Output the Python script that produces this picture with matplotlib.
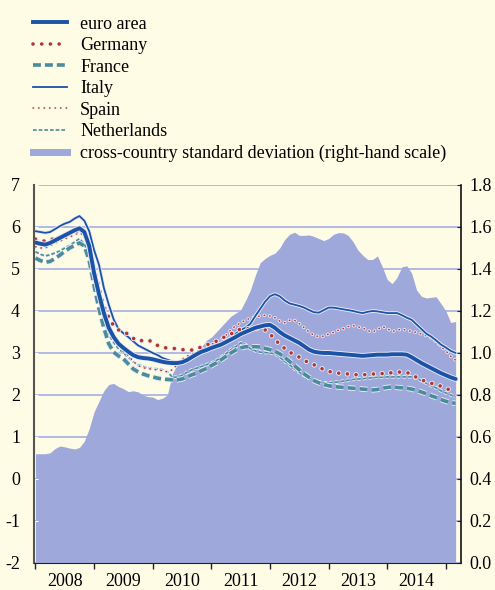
import matplotlib
matplotlib.use("Agg")
import matplotlib.pyplot as plt
import matplotlib.patheffects as pe
from matplotlib.lines import Line2D
import numpy as np

# monthly observations, Jan 2008 - Mar 2015
euro_area = [5.63, 5.60, 5.58, 5.62, 5.68, 5.74, 5.80, 5.86, 5.92, 5.97, 5.88, 5.55,
             4.90, 4.40, 3.95, 3.60, 3.38, 3.22, 3.12, 3.03, 2.95, 2.90, 2.88, 2.87,
             2.85, 2.82, 2.79, 2.77, 2.76, 2.76, 2.78, 2.83, 2.90, 2.97, 3.03, 3.07,
             3.12, 3.16, 3.20, 3.26, 3.32, 3.38, 3.45, 3.50, 3.55, 3.60, 3.63, 3.66,
             3.67, 3.60, 3.50, 3.42, 3.36, 3.30, 3.24, 3.16, 3.08, 3.03, 3.01, 3.00,
             3.00, 2.99, 2.98, 2.97, 2.96, 2.95, 2.94, 2.93, 2.94, 2.95, 2.96, 2.96,
             2.96, 2.97, 2.97, 2.97, 2.96, 2.90, 2.83, 2.76, 2.70, 2.64, 2.58, 2.52,
             2.47, 2.42, 2.38]
germany = [5.71, 5.68, 5.66, 5.70, 5.72, 5.76, 5.80, 5.84, 5.88, 5.93, 5.88, 5.50,
           5.00, 4.55, 4.10, 3.85, 3.65, 3.55, 3.50, 3.45, 3.35, 3.28, 3.30, 3.31,
           3.26, 3.18, 3.13, 3.12, 3.11, 3.10, 3.08, 3.07, 3.07, 3.09, 3.15, 3.19,
           3.23, 3.28, 3.34, 3.40, 3.45, 3.52, 3.57, 3.58, 3.58, 3.58, 3.58, 3.55,
           3.45, 3.33, 3.20, 3.11, 3.02, 2.96, 2.90, 2.83, 2.76, 2.72, 2.67, 2.60,
           2.56, 2.54, 2.52, 2.51, 2.50, 2.49, 2.48, 2.48, 2.49, 2.50, 2.50, 2.51,
           2.52, 2.53, 2.54, 2.55, 2.54, 2.48, 2.42, 2.36, 2.32, 2.28, 2.24, 2.21,
           2.17, 2.10, 2.05]
france = [5.26, 5.20, 5.16, 5.18, 5.25, 5.33, 5.42, 5.50, 5.56, 5.62, 5.55, 5.20,
          4.60, 4.05, 3.60, 3.22, 3.02, 2.93, 2.86, 2.74, 2.62, 2.55, 2.50, 2.46,
          2.43, 2.40, 2.38, 2.37, 2.36, 2.36, 2.38, 2.43, 2.48, 2.52, 2.58, 2.63,
          2.70, 2.76, 2.84, 2.92, 3.00, 3.07, 3.12, 3.15, 3.15, 3.15, 3.14, 3.11,
          3.08, 3.04, 2.98, 2.90, 2.80, 2.70, 2.60, 2.50, 2.42, 2.34, 2.29, 2.25,
          2.22, 2.20, 2.19, 2.18, 2.17, 2.16, 2.15, 2.14, 2.13, 2.12, 2.13, 2.16,
          2.18, 2.19, 2.18, 2.17, 2.16, 2.14, 2.11, 2.07, 2.03, 1.98, 1.94, 1.89,
          1.85, 1.82, 1.80]
italy = [5.90, 5.88, 5.86, 5.88, 5.95, 6.02, 6.08, 6.12, 6.20, 6.26, 6.15, 5.90,
         5.45, 5.10, 4.55, 4.15, 3.80, 3.57, 3.47, 3.38, 3.28, 3.18, 3.12, 3.06,
         3.00, 2.95, 2.88, 2.84, 2.80, 2.79, 2.80, 2.84, 2.90, 2.96, 3.02, 3.07,
         3.12, 3.17, 3.22, 3.28, 3.36, 3.46, 3.55, 3.60, 3.70, 3.88, 4.05, 4.22,
         4.35, 4.40, 4.35, 4.25, 4.18, 4.15, 4.12, 4.08, 4.02, 3.97, 3.96, 4.02,
         4.08, 4.08, 4.06, 4.04, 4.02, 4.00, 3.97, 3.95, 3.98, 4.00, 3.99, 3.97,
         3.95, 3.95, 3.95, 3.90, 3.84, 3.79, 3.68, 3.57, 3.46, 3.39, 3.30, 3.20,
         3.13, 3.05, 3.00]
spain = [5.53, 5.50, 5.50, 5.55, 5.62, 5.66, 5.72, 5.76, 5.82, 5.86, 5.80, 5.45,
         5.00, 4.50, 4.05, 3.70, 3.40, 3.18, 3.03, 2.94, 2.80, 2.70, 2.65, 2.63,
         2.61, 2.60, 2.58, 2.55, 2.60, 2.72, 2.85, 2.92, 2.98, 3.03, 3.08, 3.13,
         3.20, 3.27, 3.33, 3.42, 3.55, 3.65, 3.72, 3.78, 3.83, 3.86, 3.88, 3.90,
         3.88, 3.84, 3.76, 3.72, 3.78, 3.78, 3.70, 3.60, 3.50, 3.42, 3.39, 3.40,
         3.45, 3.49, 3.54, 3.58, 3.63, 3.65, 3.62, 3.60, 3.53, 3.50, 3.56, 3.63,
         3.58, 3.51, 3.54, 3.57, 3.54, 3.51, 3.49, 3.45, 3.41, 3.36, 3.27, 3.15,
         3.05, 2.92, 2.83]
netherlands = [5.41, 5.35, 5.31, 5.34, 5.38, 5.43, 5.50, 5.56, 5.64, 5.72, 5.60, 5.30,
               4.95, 4.25, 3.80, 3.45, 3.25, 3.10, 3.00, 2.90, 2.79, 2.72, 2.68, 2.64,
               2.63, 2.62, 2.60, 2.55, 2.43, 2.42, 2.47, 2.54, 2.60, 2.64, 2.68, 2.72,
               2.76, 2.82, 2.90, 2.98, 3.08, 3.15, 3.24, 3.20, 3.10, 3.05, 3.02, 3.01,
               3.00, 2.98, 2.90, 2.80, 2.72, 2.62, 2.54, 2.46, 2.40, 2.35, 2.31, 2.29,
               2.29, 2.30, 2.31, 2.33, 2.35, 2.37, 2.38, 2.39, 2.40, 2.41, 2.42, 2.42,
               2.43, 2.43, 2.43, 2.43, 2.43, 2.43, 2.40, 2.34, 2.28, 2.22, 2.17, 2.10,
               2.05, 2.00, 1.96]
std_dev = [0.520, 0.520, 0.520, 0.525, 0.545, 0.557, 0.553, 0.547, 0.543, 0.550, 0.580, 0.640,
           0.720, 0.770, 0.820, 0.850, 0.855, 0.840, 0.830, 0.816, 0.820, 0.815, 0.800, 0.792,
           0.790, 0.778, 0.785, 0.800, 0.900, 0.945, 0.955, 0.975, 0.990, 1.000, 1.030, 1.060,
           1.075, 1.100, 1.125, 1.150, 1.175, 1.190, 1.205, 1.250, 1.300, 1.370, 1.430, 1.450,
           1.465, 1.475, 1.500, 1.540, 1.565, 1.575, 1.560, 1.560, 1.562, 1.555, 1.545, 1.535,
           1.545, 1.565, 1.573, 1.572, 1.560, 1.530, 1.490, 1.465, 1.445, 1.445, 1.462, 1.410,
           1.350, 1.330, 1.360, 1.410, 1.415, 1.380, 1.300, 1.270, 1.262, 1.265, 1.268, 1.235,
           1.200, 1.145, 1.150]

years = ["2008", "2009", "2010", "2011", "2012", "2013", "2014"]
left_ticks = [-2, -1, 0, 1, 2, 3, 4, 5, 6, 7]
right_ticks = [0.0, 0.2, 0.4, 0.6, 0.8, 1.0, 1.2, 1.4, 1.6, 1.8]

plt.rcParams['font.family'] = ['Liberation Serif', 'DejaVu Serif']
plt.rcParams['axes.unicode_minus'] = False
plt.rcParams['font.size'] = 13

bg = '#FEFCE4'
blue = '#1B53A6'
red = '#B5352C'
teal = '#4A8C9A'
lav = '#9EA8DB'
grid_c = '#9DA7E4'

months = np.arange(len(euro_area))

fig = plt.figure(figsize=(4.95, 5.9), dpi=100, facecolor=bg)
ax = fig.add_axes([0.0687, 0.0458, 0.8626, 0.6407])
ax2 = ax.twinx()
ax.set_zorder(2)
ax2.set_zorder(1)
ax.patch.set_visible(False)
ax2.patch.set_visible(False)

# std deviation on the right-hand scale, grid underneath it
ax2.set_axisbelow(True)
ax2.fill_between(months, 0, std_dev, color=lav, lw=0, zorder=2)
ax2.set_ylim(0, 1.8)
ax2.set_yticks(right_ticks)
ax2.set_yticklabels([f"{t:.1f}" for t in right_ticks])
ax2.grid(True, color=grid_c, lw=1.1, zorder=0)
ax2.set_xticks(np.arange(12, 85, 12))

halo = '#E9EBF7'
def draw(vals, color, lw, ls, cap='butt'):
    ln, = ax.plot(months, vals, color=color, lw=lw, ls=ls,
                  solid_capstyle='round', dash_capstyle=cap)
    ln.set_path_effects([pe.Stroke(linewidth=lw + 1.3, foreground=halo), pe.Normal()])
    return ln

draw(netherlands, teal, 1.2, (0, (2.2, 1.2)))
draw(spain, red, 1.1, (0, (0.4, 3.2)), 'round')
draw(italy, blue, 1.3, '-')
draw(france, teal, 2.6, (0, (2.2, 1.1)))
draw(germany, red, 2.6, (0, (0.01, 2.4)), 'round')
draw(euro_area, blue, 2.8, '-')

ax.set_xlim(-0.3, 87.1)
ax.set_ylim(-2, 7)
ax.set_yticks(left_ticks)
ax.set_yticklabels([str(t) for t in left_ticks])

ax.set_xticks(np.arange(0, 85, 12))
ax.set_xticks(np.arange(6, 84, 12), minor=True)
ax.set_xticklabels([])
ax.set_xticklabels(years, minor=True)
ax.tick_params(axis='x', which='major', direction='out', length=4, width=1, color='#222222')
ax.tick_params(axis='x', which='minor', length=0, pad=7, labelsize=13)
ax.tick_params(axis='y', direction='in', length=3, color='white', pad=10, labelsize=13)
ax2.tick_params(axis='y', direction='in', length=3, color='#222222', pad=6, labelsize=13)
ax2.tick_params(axis='x', length=0, labelbottom=False)

for a in (ax, ax2):
    a.spines['top'].set_visible(False)
ax.spines['right'].set_visible(False)
ax.spines['left'].set_color('#555555')
ax.spines['left'].set_linewidth(1.5)
ax.spines['bottom'].set_color('#222222')
ax2.spines['left'].set_visible(False)
ax2.spines['bottom'].set_visible(False)
ax2.spines['right'].set_color('#111111')
ax2.spines['right'].set_linewidth(1.2)

handles = [
    Line2D([], [], color=blue, lw=2.8),
    Line2D([], [], color=red, lw=2.6, ls=(0, (0.01, 2.4)), dash_capstyle='round'),
    Line2D([], [], color=teal, lw=2.6, ls=(0, (2.2, 1.1))),
    Line2D([], [], color=blue, lw=1.3),
    Line2D([], [], color=red, lw=1.1, ls=(0, (0.4, 3.2)), dash_capstyle='round'),
    Line2D([], [], color=teal, lw=1.2, ls=(0, (2.2, 1.2))),
    Line2D([], [], color=lav, lw=5),
]
labels = ["euro area", "Germany", "France", "Italy", "Spain", "Netherlands",
          "cross-country standard deviation (right-hand scale)"]
fig.legend(handles, labels, loc='upper left', bbox_to_anchor=(0.045, 0.992),
           frameon=False, handlelength=1.85, handletextpad=0.75, labelspacing=0.25,
           fontsize=13, borderaxespad=0.2)

fig.savefig("out.png", dpi=100, facecolor=bg)
